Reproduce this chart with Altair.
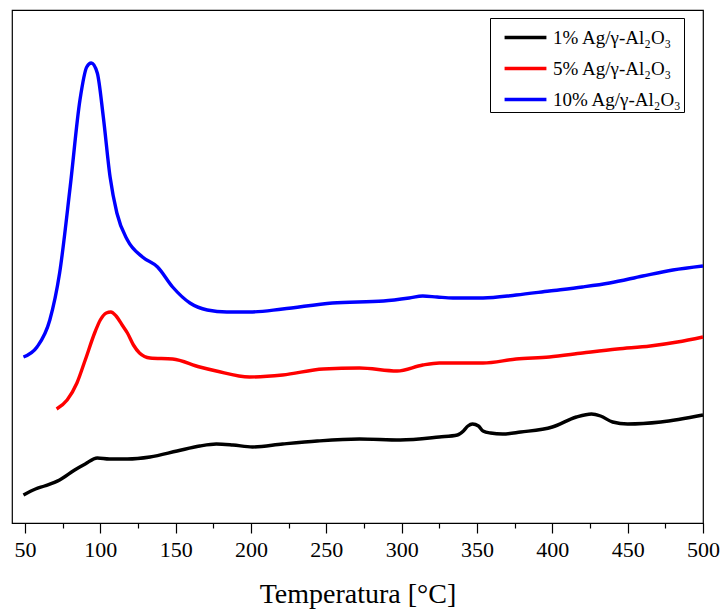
import altair as alt
import pandas as pd

# Series: 1% Ag/γ-Al2O3 (black)
t_1 = [49, 57, 63, 73, 83, 90, 98, 106, 118, 133, 151, 166, 177, 188, 201, 221, 244, 272, 299,
       325, 337, 341, 344, 347, 351, 354, 359, 367, 379, 400, 416, 426, 432, 440, 450, 472, 500]
i_1 = [28, 34, 37, 43, 53, 59, 65, 64, 64, 66, 72, 77, 79, 78, 76, 79, 82, 84, 83,
       86, 88, 92, 97, 99, 97, 92, 90, 89, 91, 96, 106, 109, 107, 101, 99, 101, 108]

# Series: 5% Ag/γ-Al2O3 (red)
t_5 = [71, 78, 84.5, 90, 96.5, 100, 104, 107, 110.5, 114.5, 118, 122, 126, 133, 148, 166, 177,
       199, 221, 248, 272, 297, 314, 325, 354, 376, 398, 420, 443, 465, 483, 500]
i_5 = [114, 123, 140, 163, 191, 203, 210, 211, 207, 198, 190, 178, 170, 165, 164, 156, 152,
       146, 148, 154, 155, 152, 158, 160, 160, 164, 166, 170, 174, 177, 181, 186]

# Series: 10% Ag/γ-Al2O3 (blue)
t_10 = [49, 58, 66.5, 73, 80, 86.5, 91, 94, 98, 102, 106.5, 111, 118, 128, 138, 148, 159.5,
        171, 184, 199, 221, 254, 288, 305, 314, 323.5, 334, 354, 376, 398, 420, 438, 460, 480, 500]
i_10 = [166, 176, 203, 250, 336, 423, 456, 460, 450, 406, 346, 310, 283, 266, 256, 236, 220,
        213, 211, 211, 214, 220, 222, 225, 227, 226, 225, 225, 228, 232, 236, 240, 247, 253, 257]

labels = ["1% Ag/γ-Al₂O₃", "5% Ag/γ-Al₂O₃", "10% Ag/γ-Al₂O₃"]
colors = ["#000000", "#ff0000", "#0000ff"]
x_ticks = list(range(50, 501, 25))

rows = []
for lab, ts, vs in zip(labels, [t_1, t_5, t_10], [i_1, i_5, i_10]):
    for k, (t, v) in enumerate(zip(ts, vs)):
        rows.append({"T": t, "I": v, "series": lab, "order": k})
df = pd.DataFrame(rows)

font = "Liberation Serif"

chart = alt.Chart(df).mark_line(strokeWidth=3.4, interpolate="monotone").encode(
    x=alt.X("T:Q",
            scale=alt.Scale(domain=[41.4, 500], nice=False, zero=False),
            axis=alt.Axis(values=x_ticks,
                          labelExpr="datum.value % 50 == 0 ? datum.label : ''",
                          title="Temperatura [°C]",
                          grid=False,
                          domainColor="black", domainWidth=1.2,
                          tickColor="black", tickWidth=1.2,
                          tickSize={"condition": {"test": "datum.value % 50 == 0", "value": 10}, "value": 5},
                          labelFont=font, labelFontSize=22, labelColor="black",
                          labelPadding=6, labelFlush=False,
                          titleFont=font, titleFontSize=28, titleFontWeight="normal",
                          titleColor="black", titlePadding=20)),
    y=alt.Y("I:Q", scale=alt.Scale(domain=[0, 513], nice=False, zero=False), axis=None),
    color=alt.Color("series:N",
                    scale=alt.Scale(domain=labels, range=colors),
                    sort=labels,
                    legend=alt.Legend(title=None, orient="none", legendX=478, legendY=8,
                                      symbolType="M-1.35,0H1.35", symbolSize=961,
                                      symbolStrokeWidth=3.5, symbolOffset=16,
                                      labelOffset=10,
                                      labelFont=font, labelFontSize=19, labelColor="black",
                                      strokeColor="black", padding=2, rowPadding=3,
                                      fillColor="white")),
    order="order:Q",
).properties(
    width=691, height=513,
    padding={"left": 12, "top": 10, "right": 20, "bottom": 86},
    autosize=alt.AutoSizeParams(type="none"),
).configure(
    font=font
).configure_axis(
    labelFont=font, titleFont=font
).configure_legend(
    labelFont=font
).configure_view(
    stroke="black", strokeWidth=1.2
)

chart.save("out.html", embed_options={"renderer": "svg", "actions": False})
